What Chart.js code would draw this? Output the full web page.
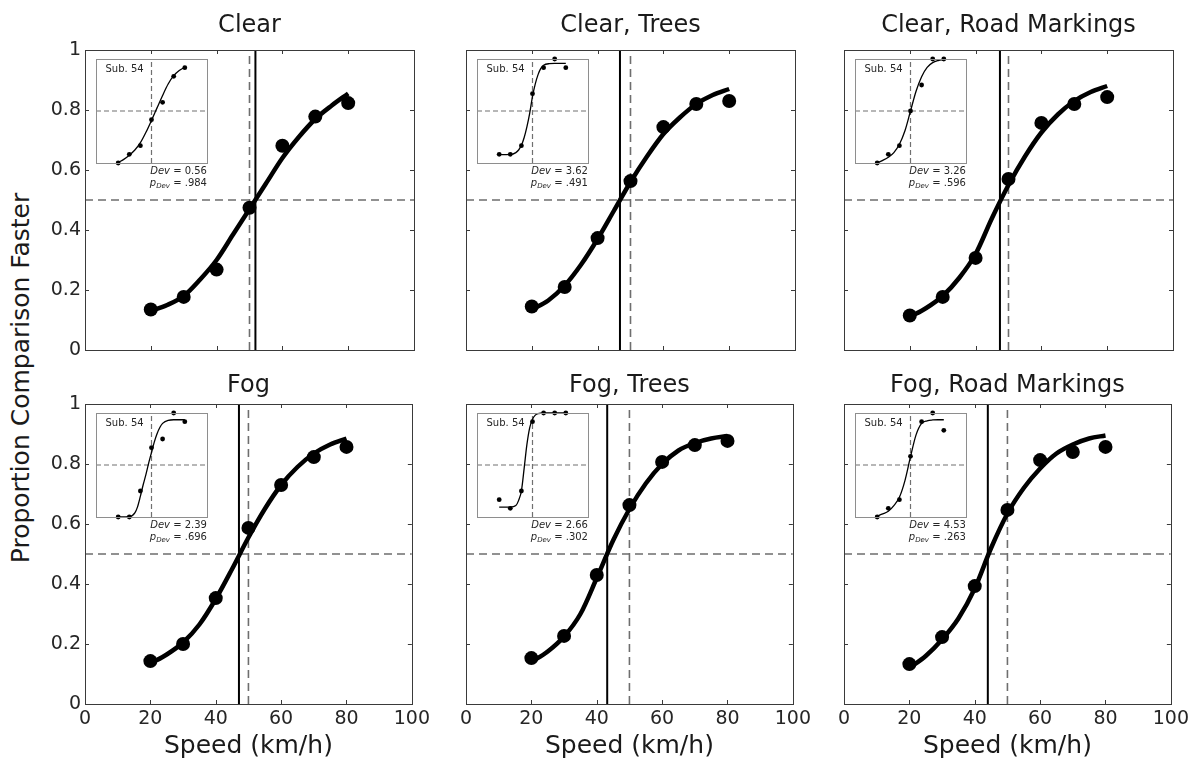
<!DOCTYPE html>
<html>
<head>
<meta charset="utf-8">
<script src="https://cdn.jsdelivr.net/npm/chart.js@4.4.0/dist/chart.umd.min.js"></script>
<style>
  html, body { margin: 0; padding: 0; background: #ffffff; }
  body { width: 1194px; height: 763px; overflow: hidden; position: relative; font-family: 'DejaVu Sans', sans-serif; }
  canvas { position: absolute; }
  .txt { position: absolute; color: #262626; font-family: 'DejaVu Sans', sans-serif; white-space: nowrap; line-height: 1; }
  .small { font-size: 10px; }
  .sub { font-size: 7px; position: relative; top: 2px; font-style: italic; }
  .ytitle { position: absolute; left: 20px; top: 378px; font-size: 25px; color: #1a1a1a;
            transform: translate(-50%, -50%) rotate(-90deg); white-space: nowrap; line-height: 1; }
</style>
</head>
<body>
<div class="ytitle" id="ytitle"></div>
<script>
// ---------------- data ----------------
const speeds = [20, 30, 40, 50, 60, 70, 80];
const curveSpeeds = [20, 25, 30, 35, 40, 45, 50, 55, 60, 65, 70, 75, 80];
const panelTitles = ['Clear', 'Clear, Trees', 'Clear, Road Markings', 'Fog', 'Fog, Trees', 'Fog, Road Markings'];
const xTickLabels = ['0', '20', '40', '60', '80', '100'];
const yTickLabels = ['0', '0.2', '0.4', '0.6', '0.8', '1'];
const xAxisTitle = 'Speed (km/h)';
const yAxisTitle = 'Proportion Comparison Faster';
const referenceSpeed = 50;
const chanceLevel = 0.5;

// group proportions (dots)
const clearMean          = [0.135, 0.177, 0.268, 0.474, 0.681, 0.778, 0.823];
const clearTreesMean     = [0.145, 0.210, 0.373, 0.563, 0.743, 0.820, 0.830];
const clearMarkingsMean  = [0.115, 0.177, 0.307, 0.570, 0.757, 0.820, 0.843];
const fogMean            = [0.143, 0.200, 0.353, 0.587, 0.730, 0.823, 0.857];
const fogTreesMean       = [0.153, 0.227, 0.430, 0.663, 0.807, 0.863, 0.877];
const fogMarkingsMean    = [0.133, 0.223, 0.393, 0.647, 0.813, 0.840, 0.857];

// group fitted curves (read at curveSpeeds)
const clearFit         = [0.130, 0.150, 0.180, 0.235, 0.300, 0.385, 0.470, 0.555, 0.640, 0.710, 0.770, 0.815, 0.855];
const clearTreesFit    = [0.135, 0.165, 0.215, 0.285, 0.370, 0.465, 0.560, 0.645, 0.720, 0.775, 0.820, 0.850, 0.870];
const clearMarkingsFit = [0.110, 0.140, 0.180, 0.240, 0.320, 0.440, 0.550, 0.645, 0.725, 0.785, 0.830, 0.860, 0.880];
const fogFit           = [0.135, 0.165, 0.205, 0.265, 0.350, 0.450, 0.555, 0.650, 0.730, 0.790, 0.835, 0.865, 0.885];
const fogTreesFit      = [0.140, 0.175, 0.225, 0.300, 0.420, 0.545, 0.650, 0.735, 0.800, 0.845, 0.870, 0.885, 0.893];
const fogMarkingsFit   = [0.120, 0.160, 0.215, 0.285, 0.385, 0.520, 0.635, 0.720, 0.785, 0.835, 0.865, 0.885, 0.895];

// points of subjective equality (solid vertical lines)
const pseValues = [51.8, 46.8, 47.4, 47.1, 43.2, 44.0];

// single-subject insets
const subjectLabel = 'Sub. 54';
const clearSub         = [0.000, 0.083, 0.167, 0.417, 0.583, 0.833, 0.917];
const clearTreesSub    = [0.083, 0.083, 0.167, 0.667, 0.917, 1.000, 0.917];
const clearMarkingsSub = [0.000, 0.083, 0.167, 0.500, 0.750, 1.000, 1.000];
const fogSub           = [0.000, 0.000, 0.250, 0.667, 0.750, 1.000, 0.917];
const fogTreesSub      = [0.167, 0.083, 0.250, 0.917, 1.000, 1.000, 1.000];
const fogMarkingsSub   = [0.000, 0.083, 0.167, 0.583, 0.917, 1.000, 0.833];

const clearSubFitX         = [20, 25, 30, 35, 40, 45, 50, 55, 60, 65, 70, 75, 80];
const clearSubFitY         = [0.005, 0.035, 0.075, 0.125, 0.195, 0.295, 0.410, 0.530, 0.650, 0.760, 0.840, 0.890, 0.920];
const clearTreesSubFitX    = [20, 30, 35, 37.5, 40, 42.5, 45, 47.5, 50, 52.5, 55, 57.5, 60, 65, 70, 80];
const clearTreesSubFitY    = [0.080, 0.082, 0.100, 0.125, 0.170, 0.245, 0.350, 0.480, 0.640, 0.760, 0.850, 0.910, 0.940, 0.955, 0.957, 0.957];
const clearMarkingsSubFitX = [20, 25, 30, 35, 40, 45, 50, 55, 60, 65, 70, 75, 80];
const clearMarkingsSubFitY = [0.000, 0.025, 0.055, 0.100, 0.180, 0.310, 0.500, 0.690, 0.830, 0.920, 0.965, 0.985, 0.995];
const fogSubFitX           = [20, 30, 35, 37.5, 40, 42.5, 45, 47.5, 50, 52.5, 55, 57.5, 60, 65, 70, 80];
const fogSubFitY           = [0.000, 0.003, 0.040, 0.100, 0.200, 0.310, 0.410, 0.520, 0.620, 0.720, 0.800, 0.860, 0.900, 0.930, 0.935, 0.935];
const fogTreesSubFitX      = [20, 30, 35, 37.5, 40, 42.5, 45, 47.5, 50, 52.5, 55, 60, 70, 80];
const fogTreesSubFitY      = [0.095, 0.095, 0.110, 0.160, 0.250, 0.470, 0.700, 0.860, 0.940, 0.980, 0.995, 1.000, 1.000, 1.000];
const fogMarkingsSubFitX   = [20, 25, 30, 35, 40, 45, 50, 55, 60, 65, 70, 75, 80];
const fogMarkingsSubFitY   = [0.010, 0.030, 0.055, 0.110, 0.190, 0.350, 0.580, 0.790, 0.900, 0.925, 0.933, 0.935, 0.935];

const devValues  = ['0.56', '3.62', '3.26', '2.39', '2.66', '4.53'];
const pDevValues = ['.984', '.491', '.596', '.696', '.302', '.263'];

// tables built from the arrays
const means = [clearMean, clearTreesMean, clearMarkingsMean, fogMean, fogTreesMean, fogMarkingsMean];
const fits = [clearFit, clearTreesFit, clearMarkingsFit, fogFit, fogTreesFit, fogMarkingsFit];
const subs = [clearSub, clearTreesSub, clearMarkingsSub, fogSub, fogTreesSub, fogMarkingsSub];
const subFitsX = [clearSubFitX, clearTreesSubFitX, clearMarkingsSubFitX, fogSubFitX, fogTreesSubFitX, fogMarkingsSubFitX];
const subFitsY = [clearSubFitY, clearTreesSubFitY, clearMarkingsSubFitY, fogSubFitY, fogTreesSubFitY, fogMarkingsSubFitY];

// ---------------- layout / style ----------------
const panelLefts = [85, 466, 844];
const panelTops = [50, 404];
const plotW = 329, plotH = 300;
const yAxisW = 50, rightPad = 20;
const FONT = "'DejaVu Sans', sans-serif";
Chart.defaults.font.family = FONT;
Chart.defaults.animation = false;

const framePlugin = {
  id: 'frame',
  afterDatasetsDraw(chart, args, o) {
    const { ctx, chartArea: a } = chart;
    ctx.save();
    ctx.setLineDash([]);
    ctx.strokeStyle = o.color;
    ctx.lineWidth = 1;
    ctx.strokeRect(Math.round(a.left) + 0.5, Math.round(a.top) + 0.5, Math.round(a.right - a.left), Math.round(a.bottom - a.top));
    if (o.ticks) {
      const xs = chart.scales.x, ys = chart.scales.y;
      ctx.beginPath();
      xs.ticks.forEach(t => {
        if (t.value <= xs.min || t.value >= xs.max) return;
        const p = Math.round(xs.getPixelForValue(t.value)) + 0.5;
        ctx.moveTo(p, a.bottom); ctx.lineTo(p, a.bottom - o.len);
        ctx.moveTo(p, a.top); ctx.lineTo(p, a.top + o.len);
      });
      ys.ticks.forEach(t => {
        if (t.value <= ys.min + 1e-9 || t.value >= ys.max - 1e-9) return;
        const p = Math.round(ys.getPixelForValue(t.value)) + 0.5;
        ctx.moveTo(a.left, p); ctx.lineTo(a.left + o.len, p);
        ctx.moveTo(a.right, p); ctx.lineTo(a.right - o.len, p);
      });
      ctx.stroke();
    }
    ctx.restore();
  }
};

function makeCanvas(left, top, w, h) {
  const cv = document.createElement('canvas');
  cv.width = w; cv.height = h;
  cv.style.left = left + 'px'; cv.style.top = top + 'px';
  cv.style.width = w + 'px'; cv.style.height = h + 'px';
  document.body.appendChild(cv);
  return cv;
}

function addText(html, left, top, cls, align) {
  const d = document.createElement('div');
  d.className = 'txt ' + (cls || '');
  d.innerHTML = html;
  d.style.top = top + 'px';
  if (align === 'right') { d.style.right = (1194 - left) + 'px'; }
  else { d.style.left = left + 'px'; }
  document.body.appendChild(d);
}

function mainChart(i) {
  const c = i % 3, r = Math.floor(i / 3);
  const topM = r === 0 ? 44 : 40;
  const botM = r === 0 ? 16 : 57;
  const cv = makeCanvas(panelLefts[c] - yAxisW, panelTops[r] - topM, yAxisW + plotW + rightPad, topM + plotH + botM);
  const titlePad = r === 0 ? { top: 5.5, bottom: 9.7 } : { top: 7.3, bottom: 3.9 };
  new Chart(cv, {
    type: 'scatter',
    data: {
      datasets: [
        { data: speeds.map((s, k) => ({ x: s, y: means[i][k] })), pointRadius: 7, pointHoverRadius: 7,
          backgroundColor: '#000', borderWidth: 0, order: 0 },
        { data: curveSpeeds.map((s, k) => ({ x: s, y: fits[i][k] })), showLine: true, pointRadius: 0,
          borderColor: '#000', borderWidth: 4.5, cubicInterpolationMode: 'monotone', order: 1 },
        { data: [{ x: pseValues[i], y: 0 }, { x: pseValues[i], y: 1 }], showLine: true, pointRadius: 0,
          borderColor: '#000', borderWidth: 2, order: 2 },
        { data: [{ x: referenceSpeed, y: 0 }, { x: referenceSpeed, y: 1 }], showLine: true, pointRadius: 0,
          borderColor: '#6e6e6e', borderWidth: 1.6, borderDash: [8, 5], order: 3 },
        { data: [{ x: 0, y: chanceLevel }, { x: 100, y: chanceLevel }], showLine: true, pointRadius: 0,
          borderColor: '#6e6e6e', borderWidth: 1.6, borderDash: [8, 5], order: 3 }
      ]
    },
    options: {
      responsive: false, animation: false, events: [],
      layout: { padding: { left: 0, right: rightPad, top: 0, bottom: 0 } },
      plugins: {
        legend: { display: false }, tooltip: { enabled: false },
        title: { display: true, fullSize: false, text: panelTitles[i], color: '#1a1a1a', font: { size: 24, weight: 'normal', family: FONT }, padding: titlePad },
        frame: { color: '#3a3a3a', ticks: true, len: 4 }
      },
      scales: {
        x: {
          type: 'linear', min: 0, max: 100,
          ticks: { stepSize: 20, display: r === 1, callback: (v, idx) => xTickLabels[idx], font: { size: 19 }, color: '#262626', padding: 4, maxRotation: 0, autoSkip: false },
          grid: { display: false, drawTicks: false }, border: { display: false },
          title: { display: r === 1, text: xAxisTitle, font: { size: 25 }, color: '#1a1a1a', padding: 0 },
          afterFit: s => { s.height = botM; }
        },
        y: {
          type: 'linear', min: 0, max: 1,
          ticks: { stepSize: 0.2, display: c === 0, callback: (v, idx) => yTickLabels[idx], font: { size: 19 }, color: '#262626', padding: 4 },
          grid: { display: false, drawTicks: false }, border: { display: false },
          afterFit: s => { s.width = yAxisW; }
        }
      }
    },
    plugins: [framePlugin]
  });
}

function insetChart(i) {
  const c = i % 3, r = Math.floor(i / 3);
  const bw = 111, bh = 104, m = 6;
  const bl = panelLefts[c] + 11, bt = panelTops[r] + 9;
  const cv = makeCanvas(bl - m, bt - m, bw + 2 * m, bh + 2 * m);
  new Chart(cv, {
    type: 'scatter',
    data: {
      datasets: [
        { data: speeds.map((s, k) => ({ x: s, y: subs[i][k] })), pointRadius: 2.4, pointHoverRadius: 2.4,
          backgroundColor: '#000', borderWidth: 0, clip: false, order: 0 },
        { data: subFitsX[i].map((s, k) => ({ x: s, y: subFitsY[i][k] })), showLine: true, pointRadius: 0,
          borderColor: '#000', borderWidth: 1.3, cubicInterpolationMode: 'monotone', clip: false, order: 1 },
        { data: [{ x: referenceSpeed, y: 0 }, { x: referenceSpeed, y: 1 }], showLine: true, pointRadius: 0,
          borderColor: '#707070', borderWidth: 1.2, borderDash: [5, 3], order: 2 },
        { data: [{ x: 0, y: chanceLevel }, { x: 100, y: chanceLevel }], showLine: true, pointRadius: 0,
          borderColor: '#707070', borderWidth: 1.2, borderDash: [5, 3], order: 2 }
      ]
    },
    options: {
      responsive: false, animation: false, events: [],
      layout: { padding: m },
      plugins: { legend: { display: false }, tooltip: { enabled: false }, title: { display: false },
        frame: { color: '#8e8e8e', ticks: false } },
      scales: {
        x: { type: 'linear', min: 0, max: 100, display: false },
        y: { type: 'linear', min: 0, max: 1, display: false }
      }
    },
    plugins: [framePlugin]
  });
  addText(subjectLabel, bl + 9.5, bt + 5, 'small');
  addText('<i>Dev</i> = ' + devValues[i], bl + bw, bt + bh + 3, 'small', 'right');
  addText('<i>p</i><span class="sub">Dev</span> = ' + pDevValues[i], bl + bw, bt + bh + 15, 'small', 'right');
}

document.getElementById('ytitle').textContent = yAxisTitle;
for (let i = 0; i < 6; i++) mainChart(i);
for (let i = 0; i < 6; i++) insetChart(i);
</script>
</body>
</html>
